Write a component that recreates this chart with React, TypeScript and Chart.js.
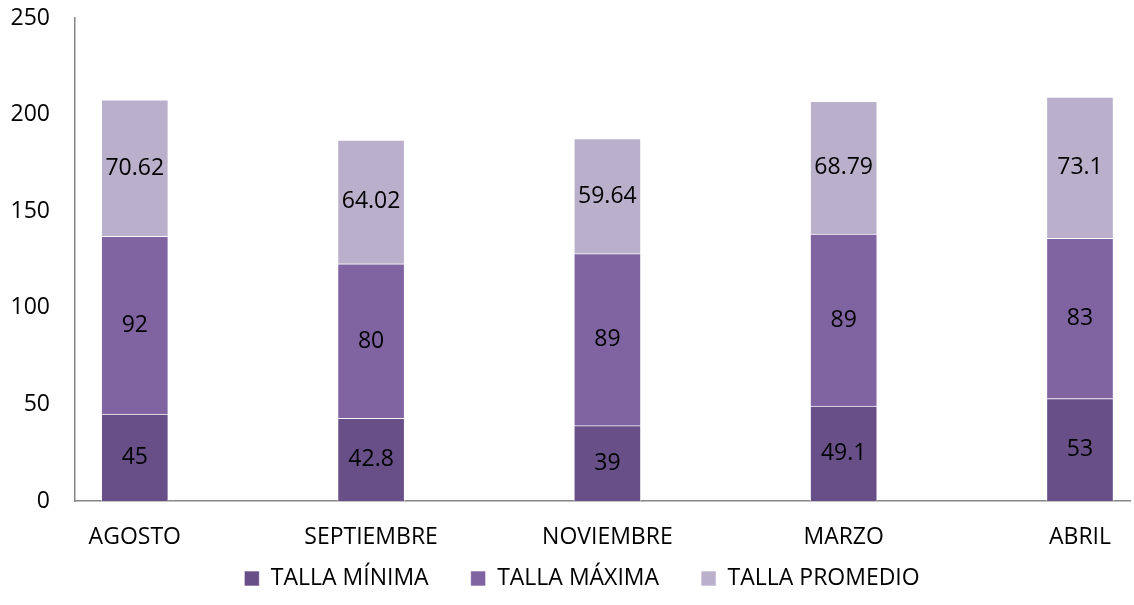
import React, { useEffect, useRef } from "react";
import { Chart, registerables } from "chart.js";

Chart.register(...registerables);

const categories = ["AGOSTO", "SEPTIEMBRE", "NOVIEMBRE", "MARZO", "ABRIL"];
const tallaMinima = [45, 42.8, 39, 49.1, 53];
const tallaMaxima = [92, 80, 89, 89, 83];
const tallaPromedio = [70.62, 64.02, 59.64, 68.79, 73.1];
const seriesNames = ["TALLA MÍNIMA", "TALLA MÁXIMA", "TALLA PROMEDIO"];
const seriesColors = ["#684f88", "#8064a2", "#bab0cb"];

const FONT = "'Open Sans', sans-serif";
const LEGEND_PADDING = 42;

const labelPlugin = {
  id: "segLabels",
  afterLayout(chart: any) {
    // keep the legend's wide horizontal gaps but lift its row closer to the axis
    if (chart.legend) {
      chart.legend.top -= 32;
      chart.legend.left += 30;
    }
  },
  afterDatasetsDraw(chart: any) {
    const ctx = chart.ctx;
    ctx.save();
    ctx.font = `23px ${FONT}`;
    ctx.fillStyle = "#000000";
    ctx.textAlign = "center";
    ctx.textBaseline = "middle";
    chart.data.datasets.forEach((ds: any, di: number) => {
      const meta = chart.getDatasetMeta(di);
      meta.data.forEach((el: any, i: number) => {
        const p = el.getProps(["x", "y", "base"], true);
        const v = ds.data[i].y;
        ctx.fillText(String(v), p.x, (p.y + p.base) / 2);
      });
    });
    ctx.restore();
  },
};

export default function App() {
  const ref = useRef<HTMLCanvasElement | null>(null);
  useEffect(() => {
    if (!ref.current) return;
    const series = [tallaMinima, tallaMaxima, tallaPromedio];
    const chart = new Chart(ref.current, {
      type: "bar",
      data: {
        datasets: series.map((s, si) => ({
          label: seriesNames[si],
          data: s.map((v, i) => ({ x: i, y: v })),
          backgroundColor: seriesColors[si],
          borderColor: "rgba(255,255,255,0.6)",
          borderWidth: 1,
          barThickness: 67,
        })),
      },
      options: {
        responsive: false,
        animation: false,
        layout: { padding: { top: 18, right: 0, bottom: 0, left: 0 } },
        plugins: {
          tooltip: { enabled: false },
          legend: {
            position: "bottom",
            maxHeight: 48,
            labels: {
              color: "#000000",
              font: { family: FONT, size: 23 },
              boxWidth: 15,
              boxHeight: 15,
              padding: LEGEND_PADDING,
            },
          },
        },
        scales: {
          x: {
            type: "linear",
            stacked: true,
            offset: false,
            min: -0.253,
            max: 4.215,
            grid: { display: false, drawTicks: false, offset: false },
            border: { display: true, color: "#868686", width: 1.5 },
            afterBuildTicks: (axis: any) => {
              axis.ticks = categories.map((_, i) => ({ value: i }));
            },
            afterFit: (axis: any) => {
              axis.height = 56;
            },
            ticks: {
              color: "#000000",
              font: { family: FONT, size: 23 },
              padding: 23,
              autoSkip: false,
              maxRotation: 0,
              callback: (v: any) => categories[v] ?? "",
            },
          },
          y: {
            stacked: true,
            min: 0,
            max: 250,
            grid: { display: false, drawTicks: true, tickLength: 22 },
            border: { display: true, color: "#868686", width: 1.5 },
            afterFit: (axis: any) => {
              axis.width = 75;
            },
            ticks: {
              stepSize: 50,
              color: "#000000",
              font: { family: FONT, size: 23 },
              padding: 3,
            },
          },
        },
      },
      plugins: [labelPlugin],
    });
    return () => chart.destroy();
  }, []);
  return (
    <div style={{ position: "fixed", left: 0, top: 0, width: 1134, height: 605, background: "#fff" }}>
      <canvas ref={ref} width={1134} height={605} />
    </div>
  );
}
